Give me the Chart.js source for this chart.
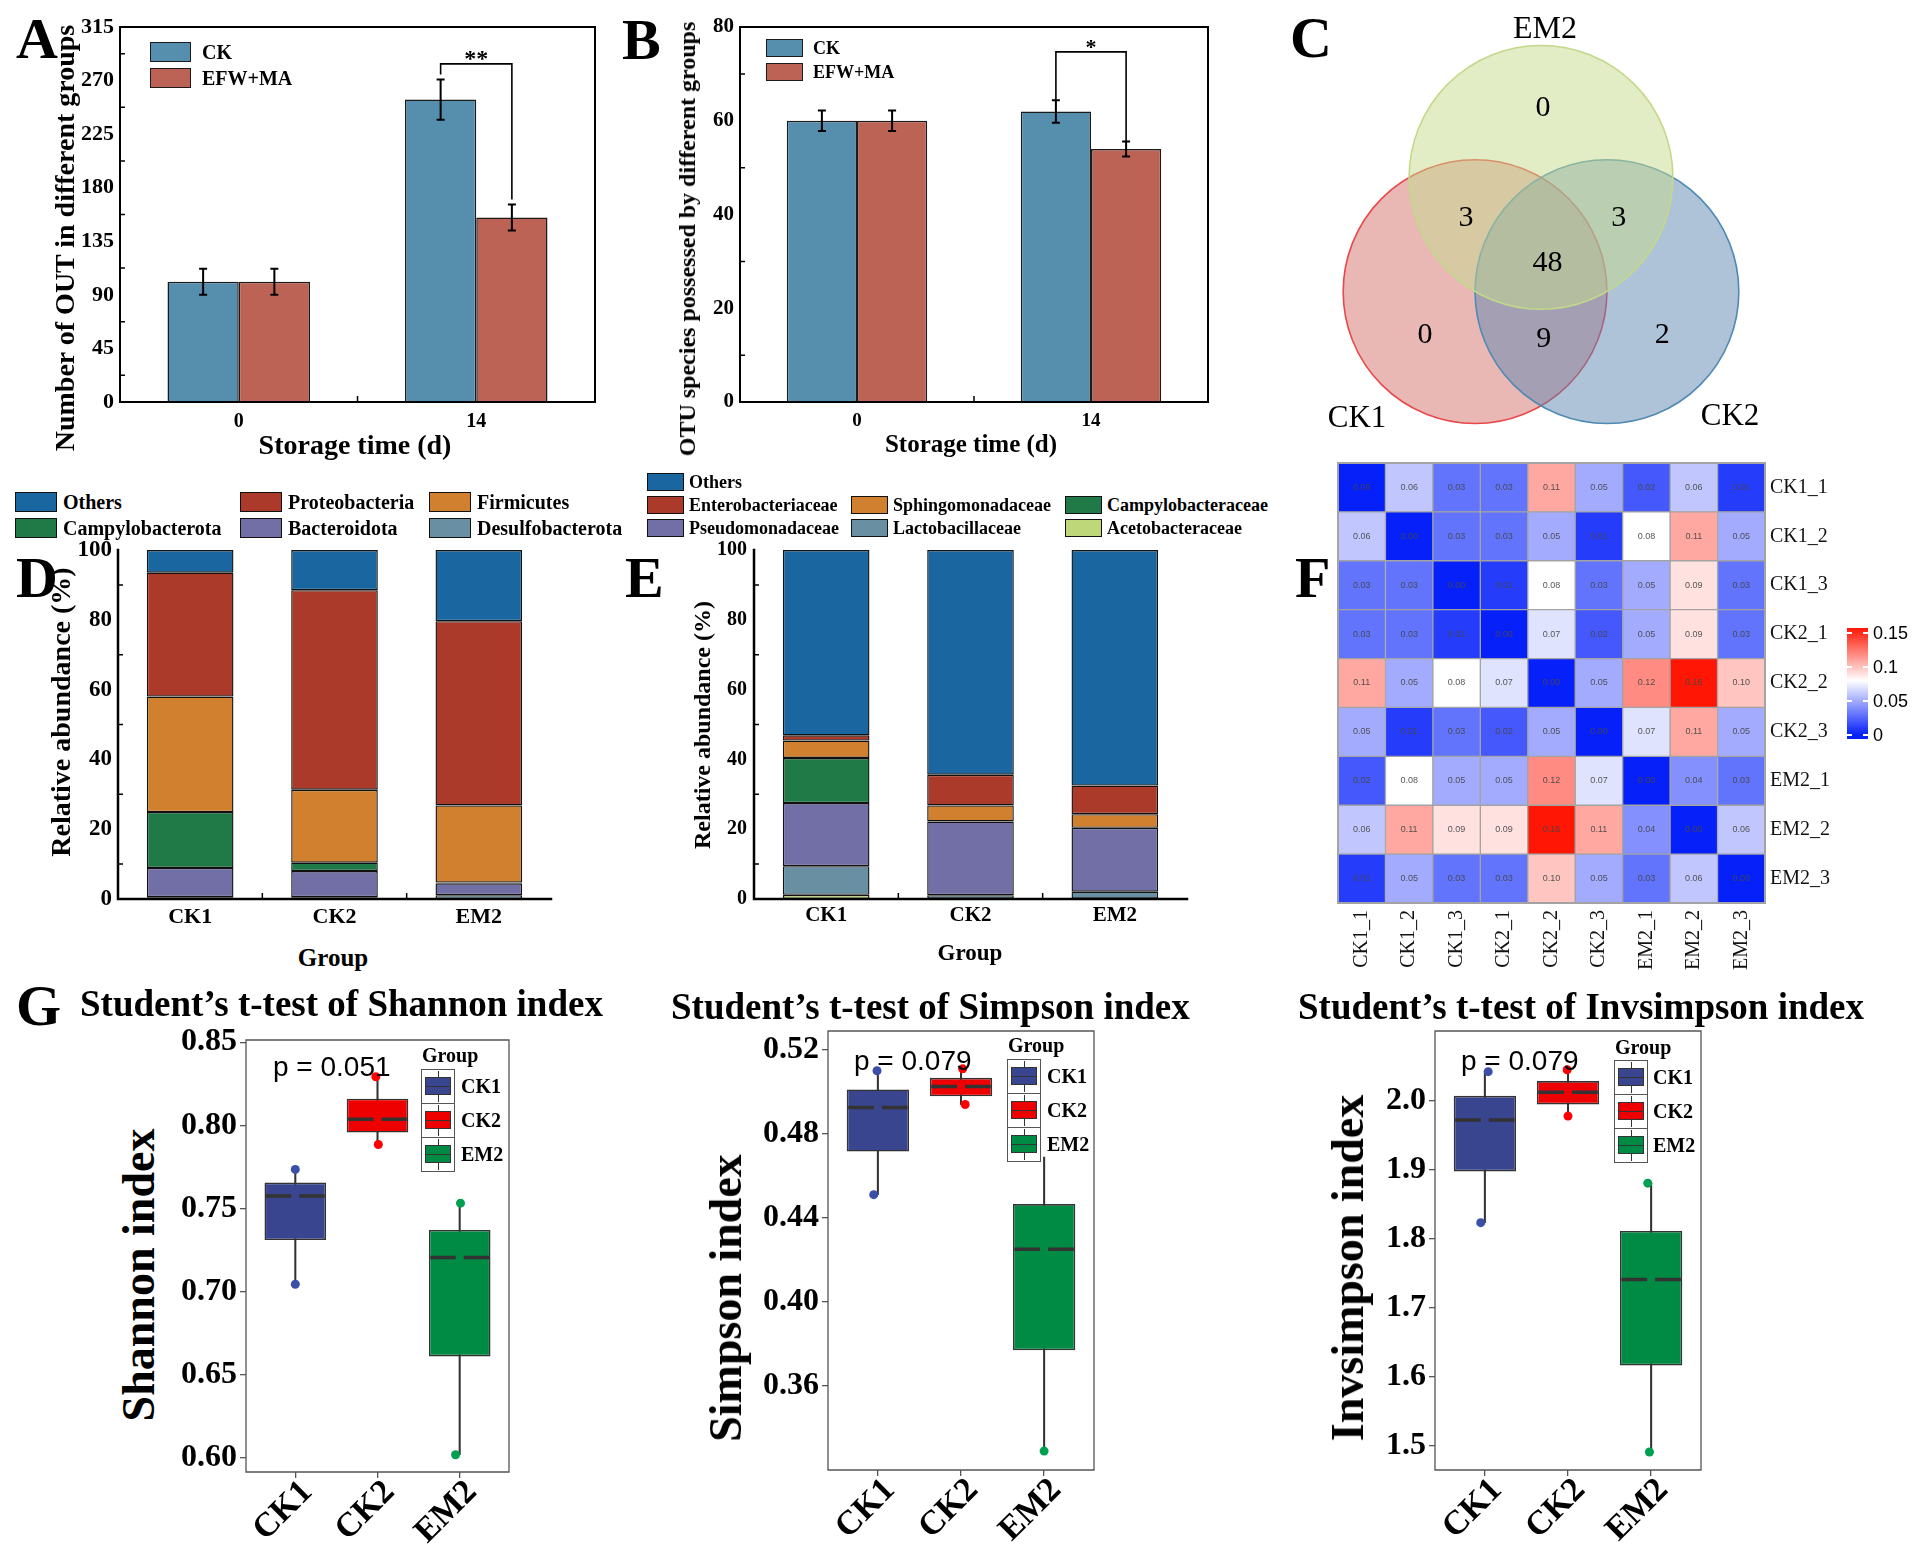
<!DOCTYPE html>
<html>
<head>
<meta charset="utf-8">
<title>Figure</title>
<script src="https://cdn.jsdelivr.net/npm/chart.js@4.4.1/dist/chart.umd.min.js"></script>
<style>
html,body{margin:0;padding:0;background:#fff;}
#page{position:relative;width:1922px;height:1560px;overflow:hidden;background:#fff;}
#page canvas{position:absolute;}
.t{position:absolute;white-space:nowrap;line-height:1;font-family:'Liberation Serif','Times New Roman',serif;color:#000;}
.sw{position:absolute;box-sizing:border-box;}
</style>
</head>
<body>
<div id="page"></div>
<script>
// ================= DATA =================
// Panel A: Number of OTU in different groups
const aDays = ['0', '14'];
const aCK = [101, 254];
const aCKErr = [11, 17];
const aEFW = [101, 155];
const aEFWErr = [11, 11];
const aSigTop = 284;
const aSigLegs = [275, 170];
// Panel B: OTU species possessed by different groups
const bDays = ['0', '14'];
const bCK = [60, 62];
const bCKErr = [2.2, 2.4];
const bEFW = [60, 54];
const bEFWErr = [2.2, 1.6];
const bSigTop = 74.7;
const bSigLegs = [64.4, 55.6];
// Panel C: Venn
const vennSets = ['EM2', 'CK2', 'CK1'];
const vennRegions = ['EM2', 'CK1&EM2', 'CK2&EM2', 'CK1&CK2&EM2', 'CK1', 'CK1&CK2', 'CK2'];
const vennCounts = [0, 3, 3, 48, 0, 9, 2];
// Panel D: phylum level (%)
const groups = ['CK1', 'CK2', 'EM2'];
const phDesulfo = [0.5, 0.5, 1.1];
const phBactero = [8.4, 7.5, 3.4];
const phCampylo = [16.0, 2.4, 0.2];
const phFirmic = [33.1, 20.9, 22.1];
const phProteo = [35.5, 57.2, 52.8];
const phOthers = [6.5, 11.5, 20.4];
// Panel E: family level (%)
const faAceto = [1.2, 0.1, 0.1];
const faLacto = [8.2, 1.0, 2.0];
const faPseudo = [18.1, 21.1, 18.3];
const faCampy = [12.9, 0, 0];
const faSphingo = [5.0, 4.6, 3.9];
const faEntero = [1.5, 8.8, 8.2];
const faOthers = [53.1, 64.4, 67.5];
// Panel F: distance heatmap
const hmNames = ['CK1_1','CK1_2','CK1_3','CK2_1','CK2_2','CK2_3','EM2_1','EM2_2','EM2_3'];
const hmCK1_1 = [0.00,0.06,0.03,0.03,0.11,0.05,0.02,0.06,0.01];
const hmCK1_2 = [0.06,0.00,0.03,0.03,0.05,0.01,0.08,0.11,0.05];
const hmCK1_3 = [0.03,0.03,0.00,0.01,0.08,0.03,0.05,0.09,0.03];
const hmCK2_1 = [0.03,0.03,0.01,0.00,0.07,0.02,0.05,0.09,0.03];
const hmCK2_2 = [0.11,0.05,0.08,0.07,0.00,0.05,0.12,0.16,0.10];
const hmCK2_3 = [0.05,0.01,0.03,0.02,0.05,0.00,0.07,0.11,0.05];
const hmEM2_1 = [0.02,0.08,0.05,0.05,0.12,0.07,0.00,0.04,0.03];
const hmEM2_2 = [0.06,0.11,0.09,0.09,0.16,0.11,0.04,0.00,0.06];
const hmEM2_3 = [0.01,0.05,0.03,0.03,0.10,0.05,0.03,0.06,0.00];
const cbTicks = [0.15, 0.1, 0.05, 0];
// Panel G: alpha diversity (min, Q1, median, Q3, max per group)
const shMin = [0.7045, 0.7885, 0.602];
const shQ1  = [0.731, 0.7957, 0.6611];
const shMed = [0.7575, 0.8036, 0.7206];
const shQ3  = [0.7656, 0.816, 0.7371];
const shMax = [0.7735, 0.8292, 0.7532];
const shTicks = [0.60, 0.65, 0.70, 0.75, 0.80, 0.85];
const siMin = [0.4511, 0.494, 0.329];
const siQ1  = [0.4716, 0.4979, 0.377];
const siMed = [0.4926, 0.5026, 0.4251];
const siQ3  = [0.5012, 0.5067, 0.4466];
const siMax = [0.5101, 0.511, 0.469];
const siTicks = [0.36, 0.40, 0.44, 0.48, 0.52];
const inMin = [1.8228, 1.9771, 1.4907];
const inQ1  = [1.897, 1.994, 1.6161];
const inMed = [1.9716, 2.0115, 1.7405];
const inQ3  = [2.0065, 2.0278, 1.8108];
const inMax = [2.0414, 2.0442, 1.88];
const inTicks = [1.5, 1.6, 1.7, 1.8, 1.9, 2.0];
const pShannon = 'p = 0.051';
const pSimpson = 'p = 0.079';
const pInvsimpson = 'p = 0.079';

// ================= STYLE / LAYOUT =================
const COL_CK = '#568FAD', COL_EFW = '#BD6356';
const C_OTH = '#1966A0', C_RED = '#AC3A2A', C_ORA = '#D0802E', C_GRN = '#207A48', C_PUR = '#716FA5', C_TEAL = '#6990A2', C_LIME = '#BED778';
const boxCol = ['#39468F', '#EE0000', '#008B45'];
const dotCol = ['#3C4FA8', '#FF0000', '#00A050'];
const SERIF = "'Liberation Serif','Times New Roman',serif";
const SANS = "'Liberation Sans',Arial,sans-serif";
// horizontal jitter of the sample points (in category units), as seen in the figure
const shJit = {min:[0, 0.01, -0.05], max:[0, -0.02, 0.01]};
const siJit = {min:[-0.05, 0.05, 0], max:[-0.01, 0.02, -0.25]};
const inJit = {min:[-0.05, 0, -0.02], max:[0.04, -0.01, -0.04]};

Chart.defaults.font.family = SERIF;
Chart.defaults.font.weight = 'bold';
Chart.defaults.color = '#000';
Chart.defaults.animation = false;
Chart.defaults.responsive = false;
Chart.defaults.plugins.legend.display = false;
Chart.defaults.plugins.tooltip.enabled = false;
Chart.defaults.events = [];

const page = document.getElementById('page');
function canvasAt(r){const c=document.createElement('canvas');c.width=r[2];c.height=r[3];Object.assign(c.style,{left:r[0]+'px',top:r[1]+'px',width:r[2]+'px',height:r[3]+'px'});page.appendChild(c);return c;}
function txt(s,x,y,o){o=o||{};const d=document.createElement('div');d.className='t';d.textContent=s;d.style.left=x+'px';d.style.top=y+'px';d.style.fontSize=(o.size||20)+'px';d.style.fontWeight=(o.bold===false)?'normal':'bold';if(o.family)d.style.fontFamily=o.family;if(o.color)d.style.color=o.color;const a=o.anchor||'c';let tr=a==='c'?'translate(-50%,-50%)':(a==='l'?'translate(0,-50%)':'translate(-100%,-50%)');if(o.rot)tr+=' rotate('+o.rot+'deg)';d.style.transform=tr;page.appendChild(d);return d;}
function rect(x,y,w,h,bg,bd,bw){const d=document.createElement('div');d.className='sw';Object.assign(d.style,{left:x+'px',top:y+'px',width:w+'px',height:h+'px',background:bg||'transparent',border:bd?((bw||1)+'px solid '+bd):'none'});page.appendChild(d);return d;}
function pad(cr,pr){return {left:0,top:pr[1]-cr[1],right:cr[0]+cr[2]-pr[2],bottom:0};}

// ================= PLUGINS =================
const frameP={id:'frame',afterDraw(ch,a,o){const {left,top,right,bottom}=ch.chartArea;const c=ch.ctx;c.save();c.strokeStyle=o.color||'#000';c.lineWidth=o.width||2;const s=o.sides||'lrtb';c.beginPath();
  if(s.indexOf('l')>=0){c.moveTo(left,top);c.lineTo(left,bottom);}
  if(s.indexOf('b')>=0){c.moveTo(left,bottom);c.lineTo(right,bottom);}
  if(s.indexOf('r')>=0){c.moveTo(right,bottom);c.lineTo(right,top);}
  if(s.indexOf('t')>=0){c.moveTo(right,top);c.lineTo(left,top);}
  c.lineCap='square';c.stroke();c.restore();}};
const innerTicksP={id:'innerTicks',afterDraw(ch,a,o){const y=ch.scales.y,x=ch.scales.x,c=ch.ctx,{left,bottom}=ch.chartArea;c.save();c.strokeStyle='#000';c.lineWidth=1.5;c.beginPath();
  if(o.minorStep){for(let v=o.minorStart;v<y.max;v+=o.minorStep){const p=y.getPixelForValue(v);c.moveTo(left,p);c.lineTo(left+5,p);}}
  if(o.xBetween){const n=ch.data.labels.length;for(let i=0;i<n-1;i++){const p=(x.getPixelForValue(i)+x.getPixelForValue(i+1))/2;c.moveTo(p,bottom);c.lineTo(p,bottom-6);}}
  c.stroke();c.restore();}};
const errP={id:'errbars',afterDatasetsDraw(ch){const y=ch.scales.y,c=ch.ctx;c.save();c.strokeStyle='#000';c.lineWidth=2;
  ch.data.datasets.forEach((ds,i)=>{if(!ds.errors)return;ch.getDatasetMeta(i).data.forEach((el,j)=>{const v=ds.data[j],e=ds.errors[j];const t=y.getPixelForValue(v+e),b=y.getPixelForValue(v-e);c.beginPath();c.moveTo(el.x,t);c.lineTo(el.x,b);c.moveTo(el.x-4,t);c.lineTo(el.x+4,t);c.moveTo(el.x-4,b);c.lineTo(el.x+4,b);c.stroke();});});c.restore();}};
const sigP={id:'sig',afterDatasetsDraw(ch,a,o){const y=ch.scales.y,c=ch.ctx;const x1=ch.getDatasetMeta(0).data[o.index].x,x2=ch.getDatasetMeta(1).data[o.index].x;const yt=y.getPixelForValue(o.top);c.save();c.strokeStyle='#000';c.lineWidth=1.6;c.beginPath();c.moveTo(x1,y.getPixelForValue(o.legs[0]));c.lineTo(x1,yt);c.lineTo(x2,yt);c.lineTo(x2,y.getPixelForValue(o.legs[1]));c.stroke();c.font='bold '+o.size+'px '+SERIF;c.textAlign='center';c.textBaseline='alphabetic';c.fillStyle='#000';c.fillText(o.text,(x1+x2)/2,yt+o.dy);c.restore();}};
const heatTextP={id:'heatText',afterDatasetsDraw(ch){const c=ch.ctx;c.save();c.font='9px '+SANS;c.textAlign='center';c.textBaseline='middle';c.fillStyle='rgba(70,70,70,0.9)';
  ch.data.datasets.forEach((ds,i)=>{ch.getDatasetMeta(i).data.forEach((el,j)=>{c.fillText(ds.values[j].toFixed(2),el.x,(el.y+el.base)/2);});});c.restore();}};
const medianP={id:'median',afterDatasetsDraw(ch){const y=ch.scales.y,c=ch.ctx;const idx=ch.data.datasets.findIndex(d=>d.isBox);const ds=ch.data.datasets[idx];c.save();c.strokeStyle='#333';c.lineWidth=3.5;
  ch.getDatasetMeta(idx).data.forEach((el,j)=>{const p=y.getPixelForValue(ds.medians[j]);const w=el.width-3,gap=8;c.setLineDash([(w-gap)/2,gap]);c.beginPath();c.moveTo(el.x-w/2,p);c.lineTo(el.x+w/2,p);c.stroke();});c.restore();}};
// ggplot-style 45 degree category labels (top-right corner anchored at the tick)
const diagLabelP={id:'diagLabels',afterDraw(ch){const x=ch.scales.x,c=ch.ctx,b=ch.chartArea.bottom;c.save();c.font='bold 34px '+SERIF;c.fillStyle='#000';c.textAlign='right';c.textBaseline='top';
  groups.forEach((g,i)=>{const px=x.getPixelForValue(i+1);c.save();c.translate(px,b+3);c.rotate(-Math.PI/4);c.fillText(g,0,0);c.restore();});c.restore();}};

// Venn layout (units of circle radius, relative to the centroid of the three centres)
const vennCenterDist = 0.5/Math.cos(Math.PI/6);
const vennAngle = {CK1:210, CK2:330, EM2:90};
const vennFill = {EM2:'rgba(197,219,141,0.5)', CK2:'rgba(95,135,177,0.5)', CK1:'rgba(211,113,107,0.5)'};
const vennStroke = {EM2:'#C2D88A', CK2:'#4F8AB4', CK1:'#E8484B'};
const vennLabelAt = {'EM2':[0.015,1.113],'CK1&EM2':[-0.568,0.28],'CK2&EM2':[0.59,0.28],'CK1&CK2&EM2':[0.05,-0.06],'CK1':[-0.88,-0.60],'CK1&CK2':[0.02,-0.63],'CK2':[0.92,-0.60]};
const vennTextP={id:'vennText',afterDatasetsDraw(ch){const x=ch.scales.x,y=ch.scales.y,c=ch.ctx;c.save();c.font='30px '+SERIF;c.fillStyle='#000';c.textAlign='center';c.textBaseline='middle';
  vennRegions.forEach((r,i)=>{const p=vennLabelAt[r];c.fillText(String(vennCounts[i]),x.getPixelForValue(p[0]),y.getPixelForValue(p[1])+2);});c.restore();}};

function heatColor(v){const t=Math.max(0,Math.min(1,v/0.16));let a,b,u;if(t<0.5){a=[6,32,250];b=[255,255,255];u=t/0.5;}else{a=[255,255,255];b=[255,22,5];u=(t-0.5)/0.5;}
  return 'rgb('+a.map((k,i)=>Math.round(k+(b[i]-k)*u)).join(',')+')';}

// ================= PANEL A =================
const crA=[60,0,560,440], prA=[120,27,595,402];
new Chart(canvasAt(crA),{type:'bar',
  data:{labels:aDays,datasets:[
    {label:'CK',data:aCK,errors:aCKErr,backgroundColor:COL_CK,borderColor:'#1b1b1b',borderWidth:1.5},
    {label:'EFW+MA',data:aEFW,errors:aEFWErr,backgroundColor:COL_EFW,borderColor:'#1b1b1b',borderWidth:1.5}]},
  options:{layout:{padding:pad(crA,prA)},datasets:{bar:{categoryPercentage:0.6,barPercentage:1}},
    scales:{x:{grid:{display:false,drawTicks:false},border:{display:false},ticks:{font:{size:20,weight:'bold'},padding:8},afterFit:s=>{s.height=crA[1]+crA[3]-prA[3];}},
      y:{min:0,max:315,ticks:{stepSize:45,font:{size:22,weight:'bold'},padding:6},grid:{display:false,drawTicks:false},border:{display:false},afterFit:s=>{s.width=prA[0]-crA[0];}}},
    plugins:{frame:{width:2},innerTicks:{minorStep:45,minorStart:22.5,xBetween:true},sig:{index:1,top:aSigTop,legs:aSigLegs,text:'**',size:24,dy:2}}},
  plugins:[errP,sigP,innerTicksP,frameP]});

// ================= PANEL B =================
const crB=[690,0,540,440], prB=[740,27,1208,402];
new Chart(canvasAt(crB),{type:'bar',
  data:{labels:bDays,datasets:[
    {label:'CK',data:bCK,errors:bCKErr,backgroundColor:COL_CK,borderColor:'#1b1b1b',borderWidth:1.5},
    {label:'EFW+MA',data:bEFW,errors:bEFWErr,backgroundColor:COL_EFW,borderColor:'#1b1b1b',borderWidth:1.5}]},
  options:{layout:{padding:pad(crB,prB)},datasets:{bar:{categoryPercentage:0.6,barPercentage:1}},
    scales:{x:{grid:{display:false,drawTicks:false},border:{display:false},ticks:{font:{size:19,weight:'bold'},padding:8},afterFit:s=>{s.height=crB[1]+crB[3]-prB[3];}},
      y:{min:0,max:80,ticks:{stepSize:20,font:{size:21,weight:'bold'},padding:6},grid:{display:false,drawTicks:false},border:{display:false},afterFit:s=>{s.width=prB[0]-crB[0];}}},
    plugins:{frame:{width:2},innerTicks:{minorStep:20,minorStart:10,xBetween:true},sig:{index:1,top:bSigTop,legs:bSigLegs,text:'*',size:22,dy:2}}},
  plugins:[errP,sigP,innerTicksP,frameP]});

// ================= PANEL C (Venn) =================
const crC=[1330,21,422,416];
new Chart(canvasAt(crC),{type:'scatter',
  data:{datasets:vennSets.map(s=>({label:s,data:[{x:vennCenterDist*Math.cos(vennAngle[s]*Math.PI/180),y:vennCenterDist*Math.sin(vennAngle[s]*Math.PI/180)}],
    backgroundColor:vennFill[s],borderColor:vennStroke[s],borderWidth:1.6,
    pointRadius:ctx=>{const sx=ctx.chart.scales.x;return sx.getPixelForValue(1)-sx.getPixelForValue(0);}}))},
  options:{layout:{padding:0},clip:false,scales:{x:{display:false,min:-1.6,max:1.6},y:{display:false,min:-1.389,max:1.761}}},
  plugins:[vennTextP]});

// ================= PANEL D =================
const crD=[60,515,500,425], prD=[118,550,551,899];
const phSeries=[['Desulfobacterota',phDesulfo,C_TEAL],['Bacteroidota',phBactero,C_PUR],['Campylobacterota',phCampylo,C_GRN],['Firmicutes',phFirmic,C_ORA],['Proteobacteria',phProteo,C_RED],['Others',phOthers,C_OTH]];
new Chart(canvasAt(crD),{type:'bar',
  data:{labels:groups,datasets:phSeries.map(s=>({label:s[0],data:s[1],backgroundColor:s[2],borderColor:'#111',borderWidth:1.4,borderSkipped:false}))},
  options:{layout:{padding:pad(crD,prD)},datasets:{bar:{categoryPercentage:0.6,barPercentage:1}},
    scales:{x:{stacked:true,grid:{display:false,drawTicks:false},border:{display:false},ticks:{font:{size:22,weight:'bold'},padding:5},afterFit:s=>{s.height=crD[1]+crD[3]-prD[3];}},
      y:{stacked:true,min:0,max:100,ticks:{stepSize:20,font:{size:23,weight:'bold'},padding:6},grid:{display:false,drawTicks:false},border:{display:false},afterFit:s=>{s.width=prD[0]-crD[0];}}},
    plugins:{frame:{sides:'lb',width:2.5},innerTicks:{minorStep:20,minorStart:10,xBetween:true}}},
  plugins:[innerTicksP,frameP]});

// ================= PANEL E =================
const crE=[700,515,500,425], prE=[754,550,1187,899];
const faSeries=[['Acetobacteraceae',faAceto,C_LIME],['Lactobacillaceae',faLacto,C_TEAL],['Pseudomonadaceae',faPseudo,C_PUR],['Campylobacteraceae',faCampy,C_GRN],['Sphingomonadaceae',faSphingo,C_ORA],['Enterobacteriaceae',faEntero,C_RED],['Others',faOthers,C_OTH]];
new Chart(canvasAt(crE),{type:'bar',
  data:{labels:groups,datasets:faSeries.map(s=>({label:s[0],data:s[1],backgroundColor:s[2],borderColor:'#111',borderWidth:1.4,borderSkipped:false}))},
  options:{layout:{padding:pad(crE,prE)},datasets:{bar:{categoryPercentage:0.6,barPercentage:1}},
    scales:{x:{stacked:true,grid:{display:false,drawTicks:false},border:{display:false},ticks:{font:{size:21,weight:'bold'},padding:4},afterFit:s=>{s.height=crE[1]+crE[3]-prE[3];}},
      y:{stacked:true,min:0,max:100,ticks:{stepSize:20,font:{size:20,weight:'bold'},padding:7},grid:{display:false,drawTicks:false},border:{display:false},afterFit:s=>{s.width=prE[0]-crE[0];}}},
    plugins:{frame:{sides:'lb',width:2.5},innerTicks:{minorStep:20,minorStart:10,xBetween:true}}},
  plugins:[innerTicksP,frameP]});

// ================= PANEL F (heatmap) =================
const crF=[1330,425,520,555], prF=[1338,463,1765,903];
const hmRows=[hmCK1_1,hmCK1_2,hmCK1_3,hmCK2_1,hmCK2_2,hmCK2_3,hmEM2_1,hmEM2_2,hmEM2_3];
const hmCellSpan=1;
new Chart(canvasAt(crF),{type:'bar',
  data:{labels:hmNames,datasets:hmRows.map((row,r)=>({label:hmNames[r],values:row,data:hmNames.map(()=>hmCellSpan),backgroundColor:row.map(heatColor),borderColor:'#a3a3a3',borderWidth:1,borderSkipped:false})).reverse()},
  options:{layout:{padding:{left:prF[0]-crF[0],top:prF[1]-crF[1],right:0,bottom:0}},datasets:{bar:{categoryPercentage:1,barPercentage:1}},
    scales:{x:{stacked:true,grid:{display:false,drawTicks:false},border:{display:false},ticks:{font:{size:20,weight:'normal'},color:'#111',minRotation:90,maxRotation:90,autoSkip:false,padding:7},afterFit:s=>{s.height=crF[1]+crF[3]-prF[3];}},
      y:{position:'right',stacked:true,min:0,max:hmNames.length,afterBuildTicks:a=>{a.ticks=hmNames.map((n,i)=>({value:i+0.5}));},
        ticks:{callback:v=>hmNames[hmNames.length-1-Math.floor(v)],font:{size:20,weight:'normal'},color:'#111',padding:5},grid:{display:false,drawTicks:false},border:{display:false},afterFit:s=>{s.width=crF[0]+crF[2]-prF[2];}}},
    plugins:{frame:{color:'#a3a3a3',width:2}}},
  plugins:[heatTextP,frameP]});

// ================= PANEL G (box plots) =================
function boxChart(cr,pr,mins,q1s,meds,q3s,maxs,jit,yMin,yMax,yTicks,dec){
  const dots=[],dc=[];
  groups.forEach((g,i)=>{dots.push({x:i+1+jit.min[i],y:mins[i]});dc.push(dotCol[i]);dots.push({x:i+1+jit.max[i],y:maxs[i]});dc.push(dotCol[i]);});
  const gridOpt={drawOnChartArea:false,drawTicks:true,tickLength:6,color:'#555',lineWidth:1.3,offset:false};
  new Chart(canvasAt(cr),{type:'bar',
    data:{datasets:[
      {type:'scatter',data:dots,pointBackgroundColor:dc,pointBorderWidth:0,pointRadius:4.5,order:0},
      {type:'bar',isBox:true,medians:meds,data:groups.map((g,i)=>({x:i+1,y:[q1s[i],q3s[i]]})),backgroundColor:boxCol,borderColor:'#333',borderWidth:1.6,borderSkipped:false,barPercentage:0.75,categoryPercentage:1,grouped:false,order:1},
      {type:'bar',data:groups.map((g,i)=>({x:i+1,y:[mins[i],maxs[i]]})),backgroundColor:'#333',barThickness:1.4,grouped:false,order:2}]},
    options:{layout:{padding:pad(cr,pr)},
      scales:{x:{type:'linear',min:0.4,max:3.6,offset:false,afterBuildTicks:a=>{a.ticks=groups.map((g,i)=>({value:i+1}));},
          ticks:{display:false},grid:gridOpt,border:{display:false},afterFit:s=>{s.height=cr[1]+cr[3]-pr[3];}},
        y:{type:'linear',min:yMin,max:yMax,afterBuildTicks:a=>{a.ticks=yTicks.map(v=>({value:v}));},
          ticks:{callback:v=>Number(v).toFixed(dec),font:{size:32,weight:'bold'},padding:3},grid:gridOpt,border:{display:false},afterFit:s=>{s.width=pr[0]-cr[0];}}},
      plugins:{frame:{color:'#555',width:1.3}}},
    plugins:[medianP,frameP,diagLabelP]});
}
boxChart([170,1000,350,560],[246,1040,509,1472],shMin,shQ1,shMed,shQ3,shMax,shJit,0.5916,0.8513,shTicks,2);
boxChart([750,995,355,565],[828,1031,1094,1470],siMin,siQ1,siMed,siQ3,siMax,siJit,0.32,0.529,siTicks,2);
boxChart([1355,995,355,565],[1435,1031,1701,1470],inMin,inQ1,inMed,inQ3,inMax,inJit,1.4646,2.1003,inTicks,1);

// ================= TEXT / LEGENDS =================
// panel letters
txt('A',16,39,{size:58,anchor:'l'});
txt('B',622,40,{size:58,anchor:'l'});
txt('C',1290,38,{size:58,anchor:'l'});
txt('D',16,578,{size:58,anchor:'l'});
txt('E',625,578,{size:58,anchor:'l'});
txt('F',1295,578,{size:58,anchor:'l'});
txt('G',16,1006,{size:58,anchor:'l'});

// A
rect(150,42,41,20,COL_CK,'#1b1b1b',1.5);
rect(150,68,41,20,COL_EFW,'#1b1b1b',1.5);
txt('CK',202,52,{size:20,anchor:'l'});
txt('EFW+MA',202,78,{size:20,anchor:'l'});
txt('Storage time (d)',355,445,{size:28});
txt('Number of OUT in different groups',65,238,{size:28,rot:-90});
// B
rect(766,39,37,18,COL_CK,'#1b1b1b',1.5);
rect(766,63,37,18,COL_EFW,'#1b1b1b',1.5);
txt('CK',813,48,{size:18,anchor:'l'});
txt('EFW+MA',813,72,{size:18,anchor:'l'});
txt('Storage time (d)',971,443,{size:25});
txt('OTU species possessed by different groups',687,239,{size:24,rot:-90});
// C
txt('EM2',1545,27,{size:32,bold:false});
txt('CK1',1357,416,{size:31,bold:false});
txt('CK2',1730,414,{size:31,bold:false});
// D legend
[[C_OTH,'Others',15,502],[C_RED,'Proteobacteria',240,502],[C_ORA,'Firmicutes',429,502],
 [C_GRN,'Campylobacterota',15,528],[C_PUR,'Bacteroidota',240,528],[C_TEAL,'Desulfobacterota',429,528]].forEach(l=>{
  rect(l[2],l[3]-10,42,20,l[0],'#111',1.5);txt(l[1],l[2]+48,l[3],{size:20,anchor:'l'});});
txt('Relative abundance (%)',61,712,{size:28,rot:-90});
txt('Group',333,957,{size:25});
// E legend
[[C_OTH,'Others',647,482],[C_RED,'Enterobacteriaceae',647,505],[C_ORA,'Sphingomonadaceae',851,505],[C_GRN,'Campylobacteraceae',1065,505],
 [C_PUR,'Pseudomonadaceae',647,528],[C_TEAL,'Lactobacillaceae',851,528],[C_LIME,'Acetobacteraceae',1065,528]].forEach(l=>{
  rect(l[2],l[3]-9,37,18,l[0],'#111',1.5);txt(l[1],l[2]+42,l[3],{size:18,anchor:'l'});});
txt('Relative abundance (%)',702,725,{size:24,rot:-90});
txt('Group',970,952,{size:23});
// F colour bar
const cb=rect(1847,628,21,111,'');
cb.style.background='linear-gradient(to top, rgb(6,32,250) 0%, rgb(6,32,250) 3.6%, #ffffff 52.6%, rgb(255,22,5) 100%)';
cbTicks.forEach(v=>{const y=735-v*680;rect(1847,y-0.75,5,1.5,'#fff');rect(1863,y-0.75,5,1.5,'#fff');
  txt(String(v),1873,y,{size:18,bold:false,family:SANS,anchor:'l'});});
// G titles
txt('Student\u2019s t-test of Shannon index',80,1003,{size:37,anchor:'l'});
txt('Student\u2019s t-test of Simpson index',671,1006,{size:37,anchor:'l'});
txt('Student\u2019s t-test of Invsimpson index',1298,1006,{size:37,anchor:'l'});
txt('Shannon index',139,1275,{size:46,rot:-90});
txt('Simpson index',726,1298,{size:46,rot:-90});
txt('Invsimpson index',1348,1268,{size:46,rot:-90});
txt(pShannon,273,1067,{size:28,bold:false,family:SANS,anchor:'l'});
txt(pSimpson,854,1061,{size:28,bold:false,family:SANS,anchor:'l'});
txt(pInvsimpson,1461,1061,{size:28,bold:false,family:SANS,anchor:'l'});
function gLegend(xk,ytop,titleY,labX){
  txt('Group',xk+1,titleY,{size:20,anchor:'l'});
  rect(xk,ytop,34,103,'#fff','#555',1);
  for(let i=0;i<3;i++){const y0=ytop+34*i;
    if(i>0)rect(xk,y0,34,1,'#555');
    rect(xk+16.5,y0+2,1,31,'#333');
    rect(xk+4,y0+8,26,18,boxCol[i],'#333',1);
    rect(xk+5,y0+16.5,24,1,'#333');
    txt(groups[i],labX,y0+17,{size:20,anchor:'l'});}
}
gLegend(421,1069,1055,461);
gLegend(1007,1059,1045,1047);
gLegend(1614,1060,1047,1653);
</script>
</body>
</html>
